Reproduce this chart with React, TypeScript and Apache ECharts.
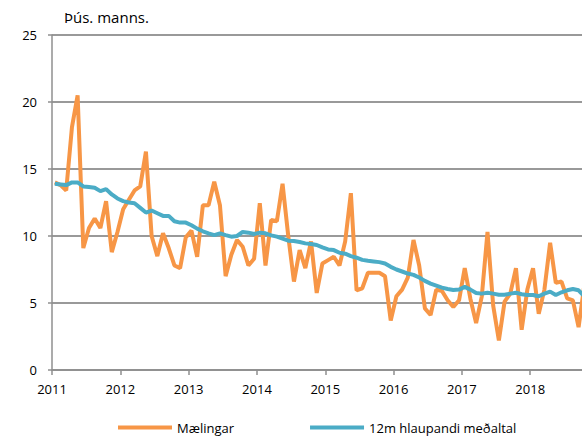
import React, { useEffect, useRef } from "react";
import * as echarts from "echarts";

const startYear = 2011;
const yearTicks = ["2011", "2012", "2013", "2014", "2015", "2016", "2017", "2018"];

// Monthly values, Jan 2011 – Oct 2018 (thousands)
const maelingar = [
  14.0, 13.8, 13.4, 18.1, 20.5, 9.1, 10.6, 11.3, 10.6, 12.6, 8.8, 10.3,
  12.0, 12.7, 13.4, 13.7, 16.3, 10.0, 8.5, 10.2, 9.1, 7.8, 7.6, 9.9,
  10.4, 8.45, 12.3, 12.3, 14.05, 12.3, 7.0, 8.6, 9.7, 9.2, 7.8, 8.3,
  12.45, 7.8, 11.2, 11.1, 13.9, 10.0, 6.6, 8.95, 7.6, 9.6, 5.75, 7.95,
  8.2, 8.45, 7.8, 9.6, 13.2, 5.95, 6.1, 7.26, 7.26, 7.26, 7.0, 3.7,
  5.5, 6.0, 6.9, 9.7, 7.8, 4.6, 4.1, 6.0, 5.9, 5.2, 4.7, 5.2,
  7.6, 5.3, 3.5, 5.5, 10.3, 4.8, 2.2, 5.1, 5.7, 7.6, 3.0, 6.0,
  7.6, 4.2, 6.0, 9.5, 6.5, 6.6, 5.35, 5.2, 3.2, 6.3,
];

const hlaupandi = [
  13.9, 13.85, 13.8, 14.0, 14.0, 13.7, 13.65, 13.6, 13.35, 13.5, 13.1, 12.8,
  12.6, 12.5, 12.45, 12.1, 11.75, 11.9, 11.7, 11.5, 11.5, 11.1, 11.0, 11.0,
  10.8, 10.55, 10.35, 10.2, 10.07, 10.2, 10.07, 9.95, 10.0, 10.3, 10.25, 10.15,
  10.25, 10.2, 10.05, 9.95, 9.8, 9.65, 9.63, 9.55, 9.45, 9.4, 9.33, 9.15,
  9.0, 8.95, 8.75, 8.68, 8.5, 8.38, 8.22, 8.15, 8.1, 8.05, 7.95, 7.7,
  7.5, 7.35, 7.2, 7.1, 6.9, 6.65, 6.45, 6.3, 6.15, 6.05, 5.97, 6.0,
  6.2, 6.0, 5.75, 5.7, 5.77, 5.7, 5.62, 5.62, 5.7, 5.77, 5.65, 5.6,
  5.6, 5.5, 5.7, 5.85, 5.6, 5.8, 5.95, 6.05, 5.95, 5.5,
];

const seriesNames = ["Mælingar", "12m hlaupandi meðaltal"];
const FONT = "'Open Sans', sans-serif";

export default function App() {
  const ref = useRef<HTMLDivElement>(null);

  useEffect(() => {
    document.body.style.margin = "0";
    if (!ref.current) return;
    const chart = echarts.init(ref.current, null, { renderer: "svg" });
    const toPairs = (arr: number[]) => arr.map((v, i) => [i + 0.5, v]);
    const grey = "#8f8f8f";
    chart.setOption({
      animation: false,
      textStyle: { fontFamily: FONT },
      graphic: [
        {
          type: "text",
          left: 64,
          top: 9,
          style: { text: "Þús. manns.", font: `15px ${FONT}`, fill: "#000" },
        },
      ],
      legend: {
        left: 113,
        top: 416,
        itemWidth: 54,
        itemHeight: 4,
        itemGap: 76,
        icon: "rect",
        textStyle: { fontSize: 13, color: "#000", fontFamily: FONT },
        data: seriesNames,
      },
      grid: { left: 52, right: 0, top: 35, bottom: 69, containLabel: false },
      xAxis: {
        type: "value",
        min: 0,
        max: 93.1,
        interval: 12,
        axisLine: { show: true, lineStyle: { color: grey, width: 1.5 } },
        axisTick: { show: true, length: 5, lineStyle: { color: grey, width: 1.5 } },
        splitLine: { show: false },
        axisLabel: {
          margin: 12,
          fontSize: 13,
          color: "#000",
          fontFamily: FONT,
          showMaxLabel: false,
          formatter: (v: number) => yearTicks[Math.round(v / 12)] ?? String(startYear + Math.round(v / 12)),
        },
      },
      yAxis: {
        type: "value",
        min: 0,
        max: 25,
        interval: 5,
        axisLine: { show: true, lineStyle: { color: grey, width: 1.5 } },
        axisTick: { show: true, length: 4, lineStyle: { color: grey, width: 1.5 } },
        splitLine: { show: true, lineStyle: { color: "#999", width: 2 } },
        axisLabel: { margin: 15, fontSize: 13, color: "#000", fontFamily: FONT },
      },
      series: [
        {
          name: seriesNames[0],
          type: "line",
          data: toPairs(maelingar),
          showSymbol: false,
          symbol: "none",
          color: "#F79646",
          lineStyle: { color: "#F79646", width: 4 },
        },
        {
          name: seriesNames[1],
          type: "line",
          data: toPairs(hlaupandi),
          showSymbol: false,
          symbol: "none",
          color: "#4BACC6",
          lineStyle: { color: "#4BACC6", width: 4 },
        },
      ],
    });
    return () => chart.dispose();
  }, []);

  return <div ref={ref} style={{ width: 582, height: 439 }} />;
}
